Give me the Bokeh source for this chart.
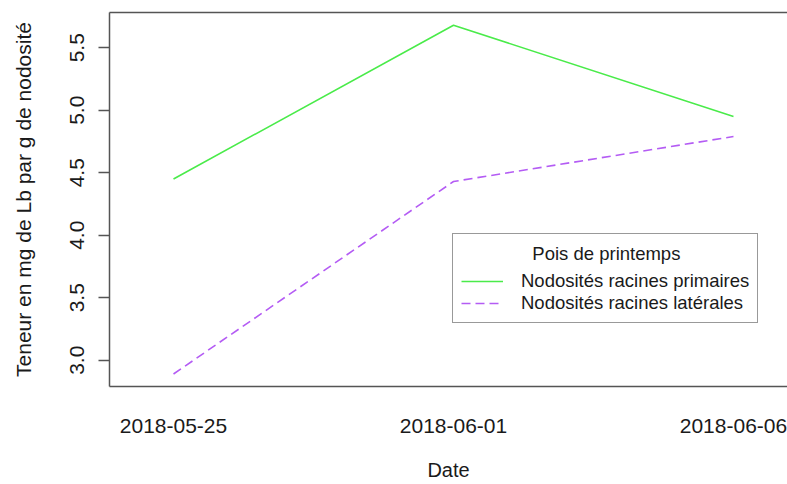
from bokeh.plotting import figure
from bokeh.models import (Range1d, FixedTicker, LinearAxis, Legend, LegendItem, Label)
from bokeh.embed import file_html
from bokeh.resources import INLINE

# Lb content in nodules, spring pea
dates = ["2018-05-25", "2018-06-01", "2018-06-06"]
date_index = [1, 2, 3]
primaires = [4.45, 5.68, 4.95]
laterales = [2.89, 4.43, 4.79]
y_ticks = [3.0, 3.5, 4.0, 4.5, 5.0, 5.5]
y_tick_labels = ["3.0", "3.5", "4.0", "4.5", "5.0", "5.5"]
legend_title = "Pois de printemps"

FONT = "Liberation Sans"
BOX = "#555555"
TXT = "#1a1a1a"

p = figure(width=787, height=484, output_backend="svg", toolbar_location=None,
           x_range=Range1d(0.7714, 3.1929), y_range=Range1d(2.79, 5.782),
           min_border_left=109, min_border_right=0, min_border_top=12,
           min_border_bottom=98, x_axis_location=None, y_axis_location=None)
p.grid.visible = False
p.outline_line_color = None
p.background_fill_color = "white"
p.border_fill_color = "white"

# bottom axis: labels only, no ticks
xa = LinearAxis(ticker=FixedTicker(ticks=date_index),
                major_label_overrides={i: d for i, d in zip(date_index, dates)},
                axis_label="Date")
xa.major_tick_out = 0
xa.major_tick_in = 0
xa.minor_tick_out = 0
xa.minor_tick_in = 0
xa.major_label_standoff = 32
xa.axis_label_standoff = 23
xa.axis_line_color = BOX
xa.axis_line_width = 1.5
xa.major_label_text_font = FONT
xa.major_label_text_font_size = "21px"
xa.major_label_text_color = TXT
xa.axis_label_text_font = FONT
xa.axis_label_text_font_size = "20px"
xa.axis_label_text_font_style = "normal"
xa.axis_label_text_color = TXT
p.add_layout(xa, "below")

# left axis
ya = LinearAxis(ticker=FixedTicker(ticks=y_ticks),
                major_label_overrides={v: s for v, s in zip(y_ticks, y_tick_labels)},
                axis_label="Teneur en mg de Lb par g de nodosité")
ya.major_tick_out = 11
ya.major_tick_in = 0
ya.minor_tick_out = 0
ya.minor_tick_in = 0
ya.major_tick_line_color = BOX
ya.major_tick_line_width = 1.5
ya.major_label_orientation = "vertical"
ya.major_label_standoff = 15
ya.axis_label_standoff = 32
ya.axis_line_color = BOX
ya.axis_line_width = 1.5
ya.major_label_text_font = FONT
ya.major_label_text_font_size = "21px"
ya.major_label_text_color = TXT
ya.axis_label_text_font = FONT
ya.axis_label_text_font_size = "21px"
ya.axis_label_text_font_style = "normal"
ya.axis_label_text_color = TXT
p.add_layout(ya, "left")

# top border of the plot box
ta = LinearAxis(ticker=FixedTicker(ticks=[]))
ta.major_tick_out = 0
ta.major_tick_in = 0
ta.minor_tick_out = 0
ta.minor_tick_in = 0
ta.major_label_standoff = 0
ta.major_label_text_font_size = "0px"
ta.axis_line_color = BOX
ta.axis_line_width = 1.5
p.add_layout(ta, "above")

r1 = p.line(date_index, primaires, line_color="#4AEB4A", line_width=1.6)
r2 = p.line(date_index, laterales, line_color="#B45CF4", line_width=1.6,
            line_dash="9 5")

# legend box; its heading is drawn centred by a separate label
legend = Legend(items=[LegendItem(label="Nodosités racines primaires", renderers=[r1]),
                       LegendItem(label="Nodosités racines latérales", renderers=[r2])],
                title=" ", location=(343, 63))
legend.title_text_font = FONT
legend.title_text_font_size = "18.5px"
legend.title_text_font_style = "normal"
legend.label_text_font = FONT
legend.label_text_font_size = "18.5px"
legend.label_text_color = TXT
legend.glyph_width = 42
legend.glyph_height = 16
legend.label_height = 16
legend.label_standoff = 18
legend.spacing = 0
legend.padding = 8
legend.margin = 0
legend.title_standoff = 6
legend.border_line_color = "#333333"
legend.border_line_width = 1.3
legend.background_fill_alpha = 0.0
p.add_layout(legend, "center")

title_lbl = Label(x=2.546, y=3.854, text=legend_title, text_align="center",
                  text_baseline="middle", text_font=FONT, text_font_size="18.5px",
                  text_color=TXT)
p.add_layout(title_lbl)

open("out.html", "w").write(file_html(p, INLINE))
